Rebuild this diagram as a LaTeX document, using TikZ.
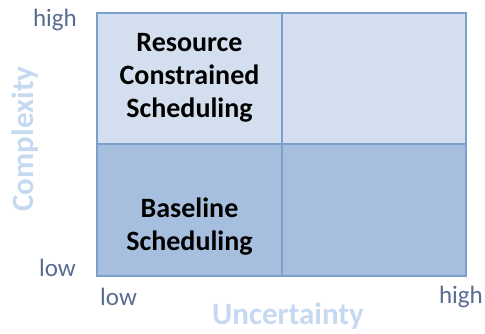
\documentclass[tikz,border=0pt]{standalone}
\usepackage{fontspec}
\setmainfont{Carlito}
\definecolor{lightcell}{RGB}{211,223,238}
\definecolor{darkcell}{RGB}{167,191,222}
\definecolor{cellline}{RGB}{124,160,205}
\definecolor{ticktext}{RGB}{88,108,145}
\definecolor{axistext}{RGB}{197,217,241}

\begin{document}
\begin{tikzpicture}[x=1pt,y=-1pt,
    cell/.style={draw=cellline,line width=1.3pt},
    tick/.style={text=ticktext,font=\fontsize{25}{27}\selectfont,inner sep=0pt},
    axis/.style={text=axistext,font=\fontsize{31}{33}\selectfont\bfseries,inner sep=0pt},
    celltext/.style={align=center,font=\fontsize{28}{33}\selectfont\bfseries,inner sep=0pt}]
  \useasboundingbox (0,0) rectangle (485,333);
  % the four cells of the grid
  \filldraw[cell,fill=lightcell] (97,13)  rectangle (282,144) coordinate (TL);
  \filldraw[cell,fill=lightcell] (282,13) rectangle (466,144) coordinate (TR);
  \filldraw[cell,fill=darkcell]  (97,144) rectangle (282,276) coordinate (BL);
  \filldraw[cell,fill=darkcell]  (282,144) rectangle (466,276) coordinate (BR);
  % cell labels
  \node[celltext] (rcs) at (189.5,78) {Resource\\Constrained\\Scheduling};
  \node[celltext] (bs)  at (189.5,227) {Baseline\\Scheduling};
  % tick labels
  \node[tick,anchor=east] (yhigh) at (77,20)   {high};
  \node[tick,anchor=east] (ylow)  at (76,268)  {low};
  \node[tick,anchor=west] (xlow)  at (100,297) {low};
  \node[tick,anchor=east] (xhigh) at (483,297) {high};
  % axis titles
  \node[axis,anchor=base] (ux) at (288,324) {Uncertainty};
  \node[axis,rotate=90] (cy) at (25,139) {Complexity};
\end{tikzpicture}
\end{document}
